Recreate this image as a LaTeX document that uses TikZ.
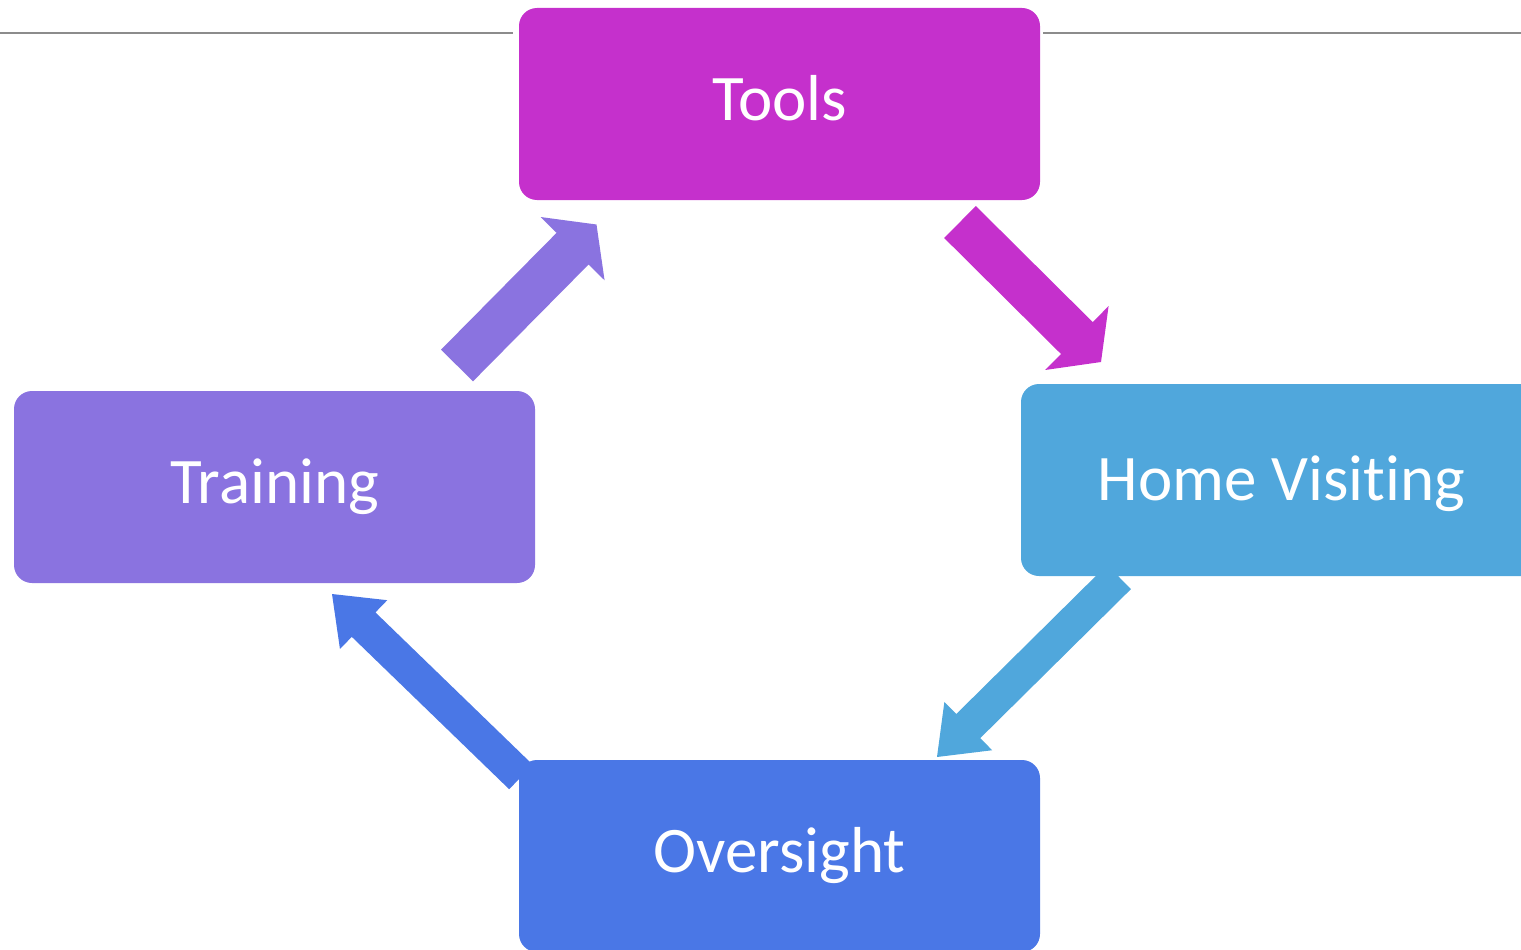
\documentclass[tikz,border=0pt]{standalone}
\usepackage{fontspec}
\setmainfont{Carlito}[Ligatures={NoCommon,NoContextual}]
\usepackage{tikz}
\usetikzlibrary{positioning, calc}
\definecolor{toolsMag}{HTML}{C530CC}
\definecolor{homeBlue}{HTML}{50A7DC}
\definecolor{trainViolet}{HTML}{8A73E0}
\definecolor{overBlue}{HTML}{4A77E6}
\definecolor{ruleGray}{HTML}{8C8C8C}

\begin{document}
\begin{tikzpicture}[x=1pt, y=-1pt,
				Stage/.style={
				rounded corners=18pt,
				minimum width=521pt,
				minimum height=192pt,
				inner sep=0pt,
				text=white,
				font=\fontsize{65}{78}\selectfont,
				text height=41pt,
				text depth=8pt
				},
				Flow/.style args={#1/#2/#3}{ % shaft half width / head half width / head length
				to path={
						($(\tikztostart)!#1!90:(\tikztotarget)$)
						-- ($(\tikztotarget)!#3!(\tikztostart)!#1!90:(\tikztotarget)$)
						-- ($(\tikztotarget)!#3!(\tikztostart)!#2!90:(\tikztotarget)$)
						-- (\tikztotarget)
						-- ($(\tikztotarget)!#3!(\tikztostart)!#2!-90:(\tikztotarget)$)
						-- ($(\tikztotarget)!#3!(\tikztostart)!#1!-90:(\tikztotarget)$)
						-- ($(\tikztostart)!#1!-90:(\tikztotarget)$)
						-- cycle
					}},
				Rule/.style={draw=ruleGray, line width=1.3pt}]
				\useasboundingbox (0,0) rectangle (1521,950);
				\clip (0,0) rectangle (1521,950);
				% Arrow ends
				\coordinate (a1s) at (960,222);
				\coordinate (a1e) at (1101,362);
				\coordinate (a2s) at (1119,577);
				\coordinate (a2e) at (937,757);
				\coordinate (a3s) at (521,777);
				\coordinate (a3e) at (332,594);
				\coordinate (a4s) at (457,365.5);
				\coordinate (a4e) at (596.5,224.5);
				\fill[Flow=22.5pt/45pt/34pt, fill=toolsMag] (a1s) to (a1e);
				\fill[Flow=17pt/34pt/44pt, fill=homeBlue] (a2s) to (a2e);
				\fill[Flow=17pt/34pt/44pt, fill=overBlue] (a3s) to (a3e);
				\fill[Flow=22.5pt/45pt/34pt, fill=trainViolet] (a4s) to (a4e);
				% Stages of the cycle
				\node[Stage, fill=toolsMag] (tools) at (779.5,104) {Tools};
				\node[Stage, fill=homeBlue, text depth=0pt] (home) at (1281.5,480) {Home Visiting};
				\node[Stage, fill=trainViolet] (training) at (274.5,487) {Training};
				\node[Stage, fill=overBlue] (oversight) at (779.5,856) {Oversight};
				% Header rule
				\coordinate (ruleL) at (0,33);
				\coordinate (ruleR) at (1521,33);
				\draw[Rule, shorten >=6pt] (ruleL) -- (ruleL -| tools.west);
				\draw[Rule, shorten >=3pt] (ruleR) -- (ruleR -| tools.east);
\end{tikzpicture}
\end{document}
